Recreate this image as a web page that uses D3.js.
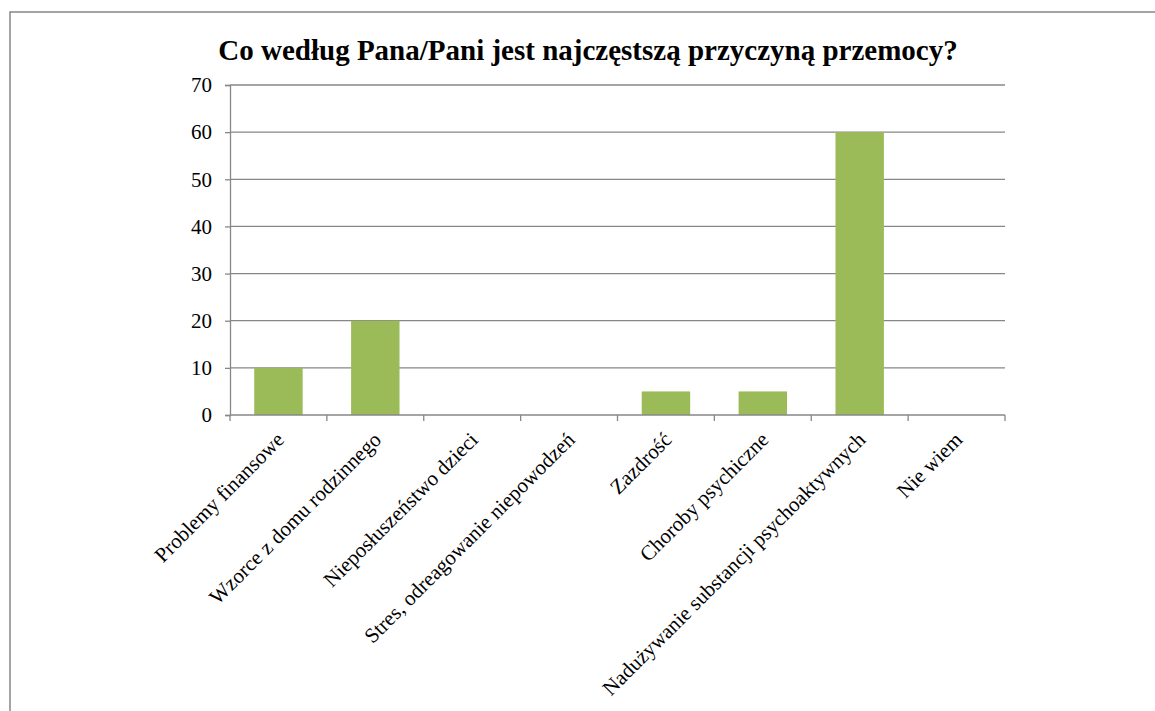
<html>
<head>
<meta charset="utf-8">
<title>Przyczyny przemocy</title>
<style>
  body { margin: 0; background: #fff; }
  text { font-family: "Liberation Serif", "Times New Roman", serif; fill: #000; }
</style>
</head>
<body>
<svg width="1155" height="711"></svg>
<script src="https://d3js.org/d3.v7.min.js"></script>
<script>

var categories = ["Problemy finansowe", "Wzorce z domu rodzinnego", "Nieposłuszeństwo dzieci",
  "Stres, odreagowanie niepowodzeń", "Zazdrość", "Choroby psychiczne",
  "Nadużywanie substancji psychoaktywnych", "Nie wiem"];
var values = [10, 20, 0, 0, 5, 5, 60, 0];
var yTicks = [0, 10, 20, 30, 40, 50, 60, 70];
var title = "Co według Pana/Pani jest najczęstszą przyczyną przemocy?";

var svg = d3.select("svg");
var grey = "#878787";

// outer frame (runs off the bottom/right of the picture)
svg.append("rect")
    .attr("x", 10).attr("y", 12)
    .attr("width", 1160).attr("height", 720)
    .attr("fill", "none").attr("stroke", grey).attr("stroke-width", 1.5);

var plotLeft = 230, plotRight = 1005, plotTop = 85, plotBottom = 415;

var x = d3.scaleBand().domain(categories).range([plotLeft, plotRight]).paddingInner(0.5).paddingOuter(0.25);
var y = d3.scaleLinear().domain([0, 70]).range([plotBottom, plotTop]);

svg.append("text")
    .attr("x", 588).attr("y", 60)
    .attr("text-anchor", "middle")
    .style("font-size", "29px").style("font-weight", "bold")
    .text(title);

// gridlines
svg.append("g").selectAll("line")
  .data(yTicks.slice(1))
  .enter().append("line")
    .attr("x1", plotLeft).attr("x2", plotRight)
    .attr("y1", function(d) { return y(d); }).attr("y2", function(d) { return y(d); })
    .attr("stroke", grey).attr("stroke-width", 1.3);

// bars
svg.append("g").selectAll("rect")
  .data(values)
  .enter().append("rect")
    .attr("x", function(d, i) { return x(categories[i]); })
    .attr("width", x.bandwidth())
    .attr("y", function(d) { return y(d); })
    .attr("height", function(d) { return plotBottom - y(d); })
    .attr("fill", "#9BBB59");

// y axis
var yAxis = svg.append("g")
    .attr("transform", "translate(" + plotLeft + ",0)")
    .call(d3.axisLeft(y).tickValues(yTicks).tickSize(5).tickPadding(13));
yAxis.select(".domain").attr("stroke", grey).attr("stroke-width", 1.3);
yAxis.selectAll(".tick line").attr("stroke", grey).attr("stroke-width", 1.3);
yAxis.selectAll(".tick text").style("font-size", "21px").attr("fill", "#000");

// x axis: ticks on category boundaries
var boundaries = d3.range(categories.length + 1).map(function(i) { return plotLeft + i * x.step(); });
svg.append("line")
    .attr("x1", plotLeft).attr("x2", plotRight).attr("y1", plotBottom).attr("y2", plotBottom)
    .attr("stroke", grey).attr("stroke-width", 1.3);
svg.append("g").selectAll("line")
  .data(boundaries)
  .enter().append("line")
    .attr("x1", function(d) { return d; }).attr("x2", function(d) { return d; })
    .attr("y1", plotBottom).attr("y2", plotBottom + 6)
    .attr("stroke", grey).attr("stroke-width", 1.3);

svg.append("g").selectAll("text")
  .data(categories)
  .enter().append("text")
    .attr("text-anchor", "end")
    .attr("transform", function(d) {
      return "translate(" + (x(d) + x.bandwidth() / 2 + 7) + "," + (plotBottom + 26) + ") rotate(-45)";
    })
    .style("font-size", "21px")
    .text(function(d) { return d; });

</script>
</body>
</html>
